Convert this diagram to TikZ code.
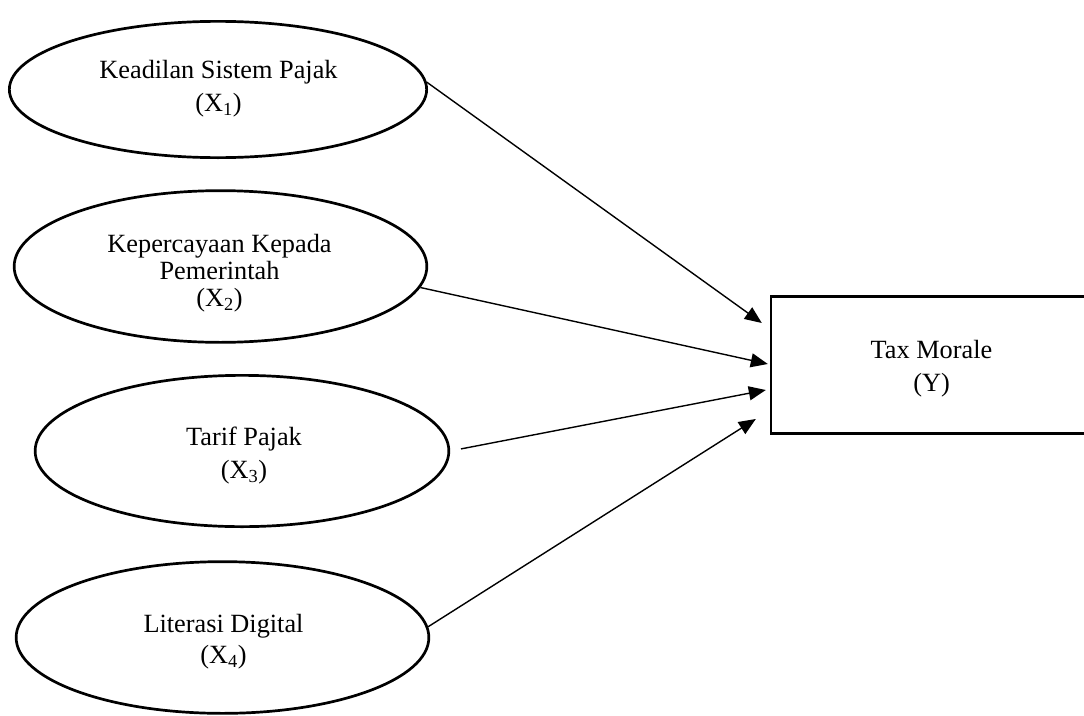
\documentclass[tikz,border=0pt]{standalone}
\usepackage{fontspec}
\setmainfont{Liberation Serif}
\usetikzlibrary{shapes.geometric,arrows.meta,calc}
\begin{document}
\begin{tikzpicture}[x=1pt,y=-1pt,
  var/.style={draw,ellipse,line width=2.7pt,inner sep=0pt},
  outc/.style={draw,rectangle,line width=2.6pt,inner sep=0pt},
  lbl/.style={align=center,inner sep=0pt},
  link/.style={line width=1.4pt,-{Triangle[length=17pt,width=14pt]}},
]
\useasboundingbox (0,0) rectangle (1084,715);
% ellipses
\node[var,minimum width=417.3pt,minimum height=136.3pt] (e1) at (218,89.5) {};
\node[var,minimum width=412.7pt,minimum height=151.7pt] (e2) at (220.5,266.5) {};
\node[var,minimum width=413.7pt,minimum height=151.3pt] (e3) at (242,451) {};
\node[var,minimum width=412.7pt,minimum height=151.7pt] (e4) at (222.5,637.5) {};
% outcome box
\node[outc,minimum width=323pt,minimum height=137.4pt] (Y) at (932.6,365) {};
% labels
\node[lbl,font=\fontsize{26.3}{33}\selectfont] (t1) at (218.5,89) {Keadilan Sistem Pajak\\(X\textsubscript{1})};
\node[lbl,font=\fontsize{26.3}{27}\selectfont] (t2) at (219.5,273) {Kepercayaan Kepada\\Pemerintah\\(X\textsubscript{2})};
\node[lbl,font=\fontsize{26.3}{33}\selectfont] (t3) at (244,456) {Tarif Pajak\\(X\textsubscript{3})};
\node[lbl,font=\fontsize{26.3}{31}\selectfont] (t4) at (223.5,642) {Literasi Digital\\(X\textsubscript{4})};
\node[lbl,font=\fontsize{26.3}{33}\selectfont] (ty) at (931.5,368.5) {Tax Morale\\(Y)};
% arrow end points
\coordinate (y1) at ($(Y.west)+(-8,-42)$);
\coordinate (y2) at ($(Y.west)+(-2,-1)$);
\coordinate (y3) at ($(Y.west)+(-4,25)$);
\coordinate (y4) at ($(Y.west)+(-14,54)$);
% connectors
\draw[link] (e1.2) -- (y1);
\draw[link] (e2.-6.4) -- (y2);
\draw[link,shorten <=11pt] (e3.east) -- (y3);
\draw[link] (e4.3) -- (y4);
\end{tikzpicture}
\end{document}
